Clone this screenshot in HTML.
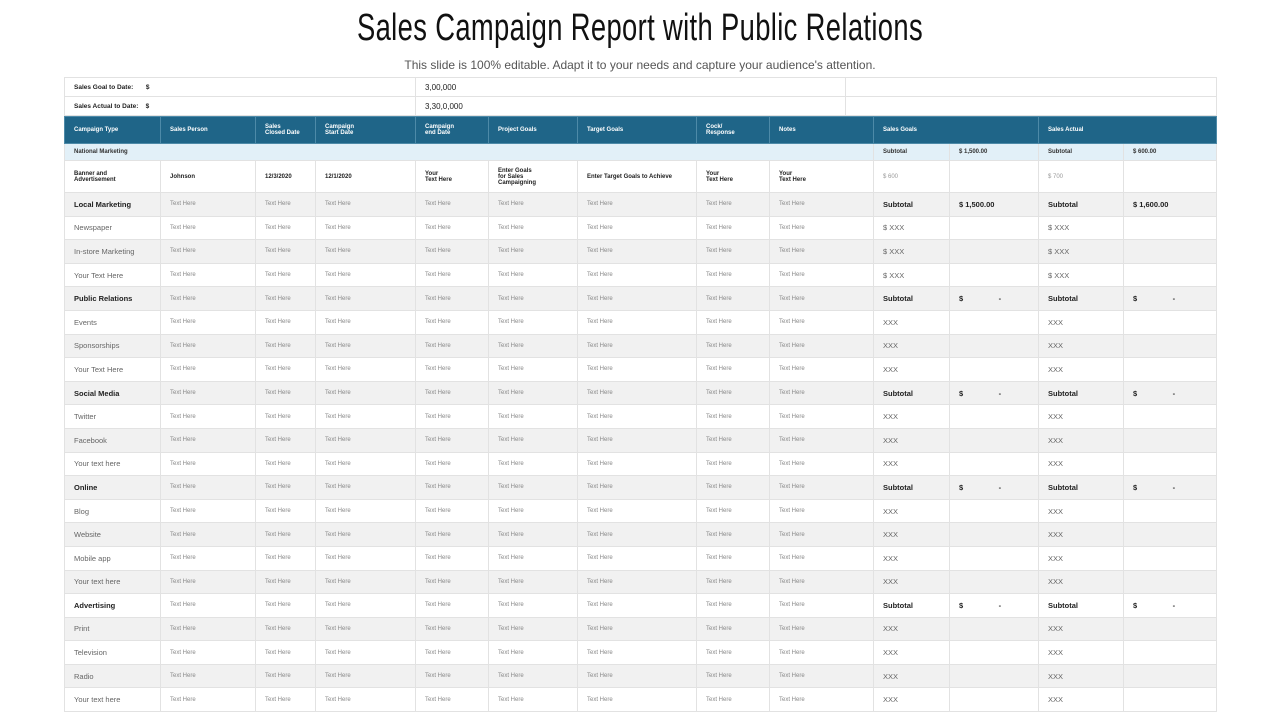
<!DOCTYPE html>
<html><head><meta charset="utf-8"><style>
body{margin:0;width:1280px;height:720px;background:#fff;font-family:"Liberation Sans",sans-serif;position:relative;overflow:hidden}
h1{position:absolute;top:7px;left:0;width:1280px;text-align:center;margin:0;font-family:"Liberation Sans Narrow","Liberation Sans",sans-serif;font-weight:normal;font-size:38px;color:#111;transform:scaleX(.72);transform-origin:center;letter-spacing:0.5px}
.sub{position:absolute;top:58px;left:0;width:1280px;text-align:center;font-size:12px;color:#555}
table{position:absolute;left:64px;border-collapse:collapse;table-layout:fixed;width:1152px}
#toptab{top:77px}
#main{top:116px}
td{border:1px solid #e2e2e2;padding:0 0 0 9px;font-size:6px;color:#888;white-space:nowrap;overflow:hidden}
tr.top td{height:18px;font-size:6.5px;color:#222;font-weight:bold}
tr.top td.big{font-size:8px;font-weight:normal}
tr.hd td{background:#1f6588;color:#fff;font-weight:bold;font-size:6px;height:26px;border-color:#4d8aa8}
tr.nat td{background:#e2f0f8;color:#333;font-weight:bold;font-size:6px;height:16px}
tr.ban td{height:31px;color:#222;font-size:6px;font-weight:bold}
tr.r td{height:22.6px}
tr.g td{background:#f1f1f1}
td.lab{font-size:7.5px;color:#666}
tr.b td.lab{font-weight:bold;color:#222}
td.s{font-size:7.5px;color:#666}
tr.b td.s{font-weight:bold;color:#222}
</style></head><body>
<h1>Sales Campaign Report with Public Relations</h1>
<div class="sub">This slide is 100% editable. Adapt it to your needs and capture your audience's attention.</div>
<table id="toptab">
<colgroup><col style="width:351px"><col style="width:430px"><col style="width:371px"></colgroup>
<tr class="top"><td>Sales Goal to Date: &nbsp; &nbsp; &nbsp; $</td><td class="big">3,00,000</td><td></td></tr>
<tr class="top"><td>Sales Actual to Date: &nbsp; &nbsp;$</td><td class="big">3,30,0,000</td><td></td></tr>
</table>
<table id="main">
<colgroup><col style="width:96px"><col style="width:95px"><col style="width:60px"><col style="width:100px"><col style="width:73px"><col style="width:89px"><col style="width:119px"><col style="width:73px"><col style="width:104px"><col style="width:76px"><col style="width:89px"><col style="width:85px"><col style="width:93px"></colgroup>
<tr class="hd"><td>Campaign Type</td><td>Sales Person</td><td>Sales<br>Closed Date</td><td>Campaign<br>Start Date</td><td>Campaign<br>end Date</td><td>Project Goals</td><td>Target Goals</td><td>Cock/<br>Response</td><td>Notes</td><td colspan="2">Sales Goals</td><td colspan="2">Sales Actual</td></tr>
<tr class="nat"><td colspan="9">National Marketing</td><td>Subtotal</td><td>$ 1,500.00</td><td>Subtotal</td><td>$ 600.00</td></tr>
<tr class="ban"><td>Banner and<br>Advertisement</td><td>Johnson</td><td>12/3/2020</td><td>12/1/2020</td><td>Your<br>Text Here</td><td>Enter Goals<br>for Sales<br>Campaigning</td><td>Enter Target Goals to Achieve</td><td>Your<br>Text Here</td><td>Your<br>Text Here</td><td style="color:#999;font-weight:normal">$ 600</td><td></td><td style="color:#999;font-weight:normal">$ 700</td><td></td></tr>
<tbody id="rows"></tbody>
</table>
<script>
const labels=["Local Marketing","Newspaper","In-store Marketing","Your Text Here","Public Relations","Events","Sponsorships","Your Text Here","Social Media","Twitter","Facebook","Your text here","Online","Blog","Website","Mobile app","Your text here","Advertising","Print","Television","Radio","Your text here"];
const bold=[1,0,0,0,1,0,0,0,1,0,0,0,1,0,0,0,0,1,0,0,0,0];
const kind=["s1","x$","x$","x$","sd","x","x","x","sd","x","x","x","sd","x","x","x","x","sd","x","x","x","x"];
const tb=document.getElementById('rows');
labels.forEach((l,i)=>{
 const tr=document.createElement('tr');
 
 
 tr.className='r'+(i%2==0?' g':'')+(bold[i]?' b':'');
 let h='<td class="lab">'+l+'</td>';
 for(let c=0;c<8;c++)h+='<td>Text Here</td>';
 const k=kind[i];
 if(k=='s1')h+='<td class="s">Subtotal</td><td class="s">$ 1,500.00</td><td class="s">Subtotal</td><td class="s">$ 1,600.00</td>';
 else if(k=='sd')h+='<td class="s">Subtotal</td><td class="s">$ &nbsp; &nbsp; &nbsp; &nbsp; &nbsp; &nbsp; &nbsp; &nbsp; -</td><td class="s">Subtotal</td><td class="s">$ &nbsp; &nbsp; &nbsp; &nbsp; &nbsp; &nbsp; &nbsp; &nbsp; -</td>';
 else if(k=='x$')h+='<td class="s">$ XXX</td><td></td><td class="s">$ XXX</td><td></td>';
 else h+='<td class="s">XXX</td><td></td><td class="s">XXX</td><td></td>';
 tr.innerHTML=h;tb.appendChild(tr);
});
</script>
</body></html>
